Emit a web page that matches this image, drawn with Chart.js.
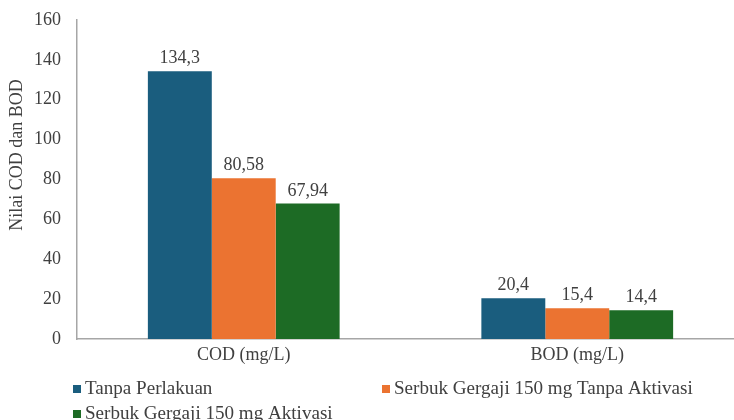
<!DOCTYPE html>
<html>
<head>
<meta charset="utf-8">
<script src="https://cdn.jsdelivr.net/npm/chart.js@4/dist/chart.umd.min.js"></script>
<style>
  html, body { margin: 0; padding: 0; background: #fff; overflow: hidden; }
  #wrap { position: relative; width: 748px; height: 420px; }
</style>
</head>
<body>
<div id="wrap"><canvas id="c" width="748" height="420"></canvas></div>
<script>
const categories = ['COD (mg/L)', 'BOD (mg/L)'];
const seriesNames = [
  'Tanpa Perlakuan',
  'Serbuk Gergaji 150 mg Tanpa Aktivasi',
  'Serbuk Gergaji 150 mg Aktivasi'
];
const tanpaPerlakuan = [134.3, 20.4];
const tanpaAktivasi = [80.58, 15.4];
const aktivasi = [67.94, 14.4];
const valueLabels = [
  ['134,3', '20,4'],
  ['80,58', '15,4'],
  ['67,94', '14,4']
];
const yTicks = [0, 20, 40, 60, 80, 100, 120, 140, 160];
const yTitle = 'Nilai COD dan BOD';

const colors = ['#1a5d7e', '#eb7331', '#1d6b25'];
const FONT = '"Liberation Serif", "Times New Roman", serif';
const TEXT = '#404040';

// value labels above each bar
const barLabels = {
  id: 'barLabels',
  afterDatasetsDraw(chart) {
    const ctx = chart.ctx;
    ctx.save();
    ctx.font = '18px ' + FONT;
    ctx.fillStyle = TEXT;
    ctx.textAlign = 'center';
    ctx.textBaseline = 'alphabetic';
    chart.data.datasets.forEach((ds, i) => {
      chart.getDatasetMeta(i).data.forEach((bar, j) => {
        ctx.fillText(valueLabels[i][j], bar.x, bar.y - 8);
      });
    });
    ctx.restore();
  }
};

// rotated y-axis title
const yTitlePlugin = {
  id: 'yTitlePlugin',
  afterDraw(chart) {
    const ctx = chart.ctx;
    ctx.save();
    ctx.translate(17, 155);
    ctx.rotate(-Math.PI / 2);
    ctx.font = '18px ' + FONT;
    ctx.fillStyle = TEXT;
    ctx.textAlign = 'center';
    ctx.textBaseline = 'middle';
    ctx.fillText(yTitle, 0, 0);
    ctx.restore();
  }
};

// two-column legend below the axis
const legendPlugin = {
  id: 'legendPlugin',
  afterDraw(chart) {
    const ctx = chart.ctx;
    const pos = [[73, 389], [382, 389], [73, 414]];
    ctx.save();
    ctx.font = '18px ' + FONT;
    ctx.textBaseline = 'middle';
    chart.data.datasets.forEach((ds, i) => {
      const [x, y] = pos[i];
      ctx.fillStyle = ds.backgroundColor;
      ctx.fillRect(x, y - 4, 8, 8);
      ctx.fillStyle = TEXT;
      ctx.save();
      ctx.translate(x + 12, y);
      ctx.scale(1.06, 1);
      ctx.fillText(ds.label, 0, 0);
      ctx.restore();
    });
    ctx.restore();
  }
};

new Chart(document.getElementById('c'), {
  type: 'bar',
  data: {
    labels: categories,
    datasets: [
      { label: seriesNames[0], data: tanpaPerlakuan, backgroundColor: colors[0] },
      { label: seriesNames[1], data: tanpaAktivasi, backgroundColor: colors[1] },
      { label: seriesNames[2], data: aktivasi, backgroundColor: colors[2] }
    ]
  },
  options: {
    responsive: false,
    animation: false,
    layout: { padding: { top: 20, right: 4, left: 0, bottom: 0 } },
    datasets: { bar: { barPercentage: 1, categoryPercentage: 0.575 } },
    plugins: { legend: { display: false }, tooltip: { enabled: false } },
    scales: {
      x: {
        grid: { display: false, drawTicks: false },
        border: { color: '#a6a6a6', width: 1.5 },
        ticks: { font: { family: FONT, size: 18 }, color: TEXT, padding: 5 },
        afterFit(scale) { scale.height = 81; scale.paddingLeft = 0; scale.paddingRight = 0; }
      },
      y: {
        min: 0, max: 160,
        afterBuildTicks(scale) { scale.ticks = yTicks.map(v => ({ value: v })); },
        grid: { display: false, drawTicks: false },
        border: { color: '#a6a6a6', width: 1.5 },
        ticks: { font: { family: FONT, size: 18 }, color: TEXT, padding: 16 },
        afterFit(scale) { scale.width = 77; scale.paddingTop = 0; scale.paddingBottom = 0; }
      }
    }
  },
  plugins: [barLabels, yTitlePlugin, legendPlugin]
});
</script>
</body>
</html>
